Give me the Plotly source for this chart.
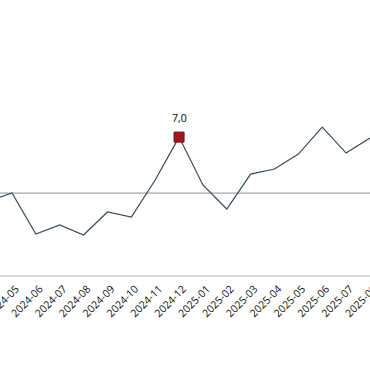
import plotly.graph_objects as go

months = ["2024-04", "2024-05", "2024-06", "2024-07", "2024-08", "2024-09", "2024-10",
          "2024-11", "2024-12", "2025-01", "2025-02", "2025-03", "2025-04", "2025-05",
          "2025-06", "2025-07", "2025-08"]
values = [3.75, 4.16, 2.08, 2.54, 2.03, 3.20, 2.94, 4.82, 7.0, 4.57, 3.35, 5.12, 5.38,
          6.14, 7.51, 6.19, 6.95]
reference_value = 4.16
highlight_month = "2024-12"
highlight_value = 7.0

fig = go.Figure()
fig.add_trace(go.Scatter(
    x=months, y=[reference_value] * len(months), mode="lines",
    line=dict(color="#a6a6a6", width=1.2), hoverinfo="skip", showlegend=False))
fig.add_trace(go.Scatter(
    x=months, y=values, mode="lines",
    line=dict(color="#3b4a55", width=1.2), showlegend=False))
fig.add_trace(go.Scatter(
    x=[highlight_month], y=[highlight_value], mode="markers",
    marker=dict(symbol="square", size=10, color="#a8161d",
                line=dict(color="#6d0c10", width=1)),
    cliponaxis=False, showlegend=False))
fig.add_annotation(
    x=highlight_month, y=highlight_value,
    text=f"{highlight_value:.1f}".replace(".", ","), showarrow=False, yshift=19,
    font=dict(size=10.5, color="#000000", family="Open Sans"))

fig.update_layout(
    width=370, height=380,
    margin=dict(l=0, r=0, t=78, b=105),
    paper_bgcolor="white", plot_bgcolor="white",
    font=dict(family="Open Sans", size=10, color="#111111"),
    xaxis=dict(type="category", range=[0.497, 16.001], tickangle=-45, automargin=False,
               showgrid=False, showline=True, linecolor="#d9d9d9", linewidth=1.5,
               ticks="", ticklabelshift=4, ticklabelstandoff=2,
               tickfont=dict(size=10.5, color="#111111")),
    yaxis=dict(range=[0, 10], showgrid=False, zeroline=False, showticklabels=False,
               showline=False, ticks="", automargin=False),
)
fig.write_html("out.html", config={"displayModeBar": False},
               post_script="document.body.style.margin='0';")
